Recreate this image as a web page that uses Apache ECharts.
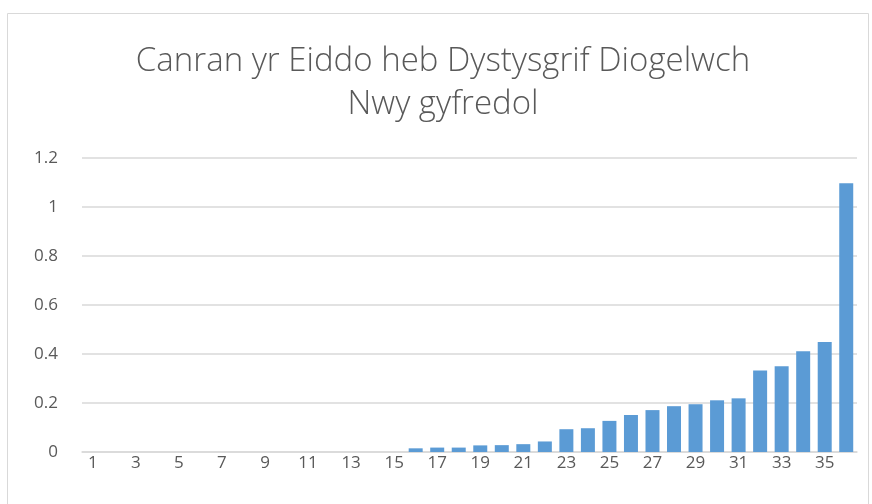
<!DOCTYPE html>
<html>
<head>
<meta charset="utf-8">
<script src="https://cdn.jsdelivr.net/npm/echarts@6/dist/echarts.min.js"></script>
<style>
  html,body{margin:0;padding:0;background:#fff;}
  #chart{width:872px;height:504px;}
</style>
</head>
<body>
<div id="chart"></div>
<script>
// categories 1..36
const categories = ['1','2','3','4','5','6','7','8','9','10','11','12','13','14','15','16','17','18',
  '19','20','21','22','23','24','25','26','27','28','29','30','31','32','33','34','35','36']
// values
const values = [0,0,0,0,0,0,0,0,0,0,0,0,0,0,0,
  0.015,0.018,0.018,0.027,0.028,0.032,0.043,0.093,0.097,0.127,0.151,
  0.171,0.187,0.195,0.211,0.219,0.333,0.35,0.411,0.449,1.097]
const titleLines = ['Canran yr Eiddo heb Dystysgrif Diogelwch', 'Nwy gyfredol']

const myChart = echarts.init(document.getElementById('chart'))
const option = {
  animation: false,
  graphic: [{
    type: 'rect',
    shape: { x: 7.5, y: 13.5, width: 861, height: 500 },
    style: { fill: 'none', stroke: '#d9d9d9', lineWidth: 1 },
    silent: true
  }],
  title: {
    text: titleLines.join('\n'),
    left: 438,
    top: 35,
    textAlign: 'center',
    textStyle: {
      fontFamily: 'Open Sans',
      fontWeight: 300,
      fontSize: 33,
      lineHeight: 43,
      color: '#595959'
    }
  },
  grid: { left: 82, right: 15, top: 158, bottom: 52 },
  xAxis: {
    type: 'category',
    data: categories,
    axisLine: { show: true, lineStyle: { color: '#d9d9d9', width: 1.5 } },
    axisTick: { show: false },
    axisLabel: {
      interval: 1,
      color: '#595959',
      fontFamily: 'Open Sans',
      fontSize: 17,
      margin: 3
    }
  },
  yAxis: {
    type: 'value',
    min: 0,
    max: 1.2,
    interval: 0.2,
    axisLine: { show: false },
    axisTick: { show: false },
    splitLine: { lineStyle: { color: '#d9d9d9', width: 1.5 } },
    axisLabel: {
      color: '#595959',
      fontFamily: 'Open Sans',
      fontSize: 17,
      margin: 24,
      formatter: v => String(Math.round(v * 10) / 10)
    }
  },
  series: [{
    type: 'bar',
    data: values,
    barCategoryGap: '35%',
    itemStyle: { color: '#5b9bd5' }
  }]
}
myChart.setOption(option)
</script>
</body>
</html>
